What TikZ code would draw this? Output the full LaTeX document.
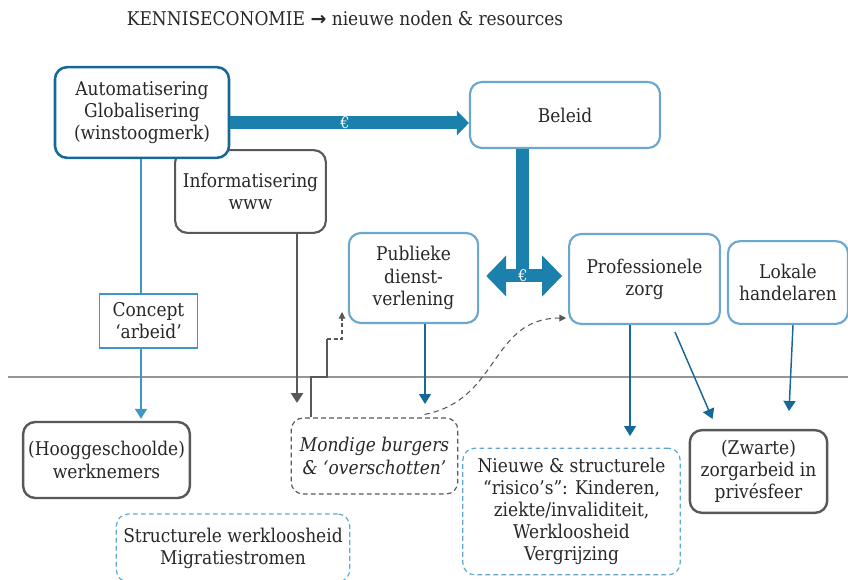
\documentclass[tikz,border=0pt]{standalone}
\usepackage{fontspec}
\setmainfont{DejaVu Serif Condensed}
\newfontfamily\symfont{DejaVu Sans}
\usetikzlibrary{arrows.meta,positioning,calc}
\definecolor{darkblue}{RGB}{22,104,150}
\definecolor{midblue}{RGB}{28,128,172}
\definecolor{lineblue}{RGB}{60,152,195}
\definecolor{lightblue}{RGB}{108,167,205}
\definecolor{dashblue}{RGB}{95,168,210}
\definecolor{boxgray}{RGB}{88,88,88}
\definecolor{rulegray}{RGB}{150,150,150}
\definecolor{txt}{RGB}{40,40,40}

\begin{document}
\begin{tikzpicture}[x=0.75pt,y=-0.75pt,
  every node/.style={text=txt,font=\fontsize{14.2}{16.6}\selectfont,align=center},
  box/.style={draw,rounded corners=9pt,line width=1.6pt,fill=white,inner sep=2pt},
  topbox/.style={box,draw=darkblue,line width=1.9pt},
  bluebox/.style={box,draw=lightblue},
  graybox/.style={box,draw=boxgray,line width=1.8pt},
  dashbox/.style={box,draw=dashblue,line width=0.9pt,dash pattern=on 3.5pt off 2.5pt},
  tip/.style={-{Triangle[width=9pt,length=7.5pt]}},
  flow/.style={tip,darkblue,line width=1.1pt},
  euro/.style={text=white,font=\fontsize{12}{12}\selectfont,inner sep=0pt},
  bigarrow/.style={midblue,line width=9.75pt}
]
\useasboundingbox (0,0) rectangle (848,580);

\node (title) at (345,18) {KENNISECONOMIE {\symfont\bfseries →} nieuwe noden \& resources};

% bovenste laag
\node[graybox,line width=1.6pt,minimum width=113pt,minimum height=62pt] (info) at (250.5,191.5) {Informatisering\\www};
\node[topbox,minimum width=130.5pt,minimum height=68pt] (auto) at (142,112.5) {Automatisering\\Globalisering\\(winstoogmerk)};
\node[bluebox,minimum width=142.5pt,minimum height=49.5pt] (beleid) at (565,115) {Beleid};
\node[bluebox,minimum width=97pt,minimum height=67.5pt] (publ) at (413.5,278) {Publieke\\dienst-\\verlening};
\node[bluebox,minimum width=113pt,minimum height=67.5pt] (prof) at (644.5,279) {Professionele\\zorg};
\node[bluebox,minimum width=90pt,minimum height=62pt] (lokaal) at (788,282.5) {Lokale\\handelaren};
\node[draw=lineblue,line width=0.9pt,fill=white,minimum width=74pt,minimum height=40.5pt,inner sep=2pt] (concept) at (148.5,321) {Concept\\‘arbeid’};

% scheidingslijn
\coordinate (ruleL) at (8,377);
\coordinate (ruleR) at (848,377);
\draw[rulegray,line width=1.5pt] (ruleL) -- (ruleR);

% onderste laag
\node[graybox,minimum width=125pt,minimum height=57pt] (hoog) at (106.5,460) {(Hooggeschoolde)\\werknemers};
\node[box,draw=boxgray,line width=0.9pt,dash pattern=on 3.5pt off 2.5pt,minimum width=125pt,minimum height=57pt,font=\fontsize{14.2}{16.6}\selectfont\itshape] (mondig) at (374.5,456) {Mondige burgers\\\& ‘overschotten’};
\node[dashbox,minimum width=163pt,minimum height=95pt] (nieuw) at (571.5,511.5) {Nieuwe \& structurele\\“risico’s”: Kinderen,\\ziekte/invaliditeit,\\Werkloosheid\\Vergrijzing};
\node[graybox,minimum width=103pt,minimum height=62pt] (zwart) at (758.5,471.5) {(Zwarte)\\zorgarbeid in\\privésfeer};
\node[dashbox,minimum width=175pt,minimum height=51pt] (struct) at (233,548) {Structurele werkloosheid\\Migratiestromen};

% geldstromen
\coordinate (eu) at (522,276);
\draw[bigarrow,-{Triangle[width=18pt,length=9pt]}] (auto.east |- 0,123) -- (beleid.west |- 0,123);
\node[euro] (eu1) at (345,123) {€};
\draw[bigarrow] (beleid.south -| eu) -- (eu);
\draw[bigarrow,{Triangle[width=30pt,length=15pt]}-{Triangle[width=30pt,length=15pt]}] ($(publ.east |- eu)+(7,0)$) -- ($(prof.west |- eu)+(-6,0)$);
\node[euro] (eu2) at (523,276) {€};

% pijlen naar beneden
\draw[lineblue,line width=1.1pt] (auto.south -| 141,0) -- (concept.north -| 141,0);
\draw[tip,lineblue,line width=1.1pt] (concept.south -| 141,0) -- ($(hoog.north -| 141,0)+(0,-2)$);
\draw[tip,boxgray,line width=2pt] (info.south -| 297,0) -- (297,403);
\draw[flow] (publ.south -| 425,0) -- (425,404);
\draw[flow] (prof.south -| 630,0) -- (630,436);
\draw[flow] (675,332) -- ($(zwart.north)+(-46,-10)$);
\draw[flow] (lokaal.south -| 793,0) -- ($(zwart.north)+(30.5,-18)$);

% mondige burgers
\draw[boxgray,line width=0.8pt] (mondig.north -| 311,0) -- (311,377) -- (327,377) -- (327,339);
\draw[boxgray,line width=0.8pt,dash pattern=on 3pt off 2pt,-{Triangle[width=5pt,length=5pt]}] (327,339) -- (342,339) -- (342,312);
\draw[boxgray,line width=0.8pt,dash pattern=on 4pt off 3pt,-{Triangle[width=5pt,length=5pt]}] ($(mondig.north)+(50,-3)$) .. controls (500,400) and (490,318) .. ($(prof.south west)+(-2,-7)$);
\end{tikzpicture}
\end{document}
